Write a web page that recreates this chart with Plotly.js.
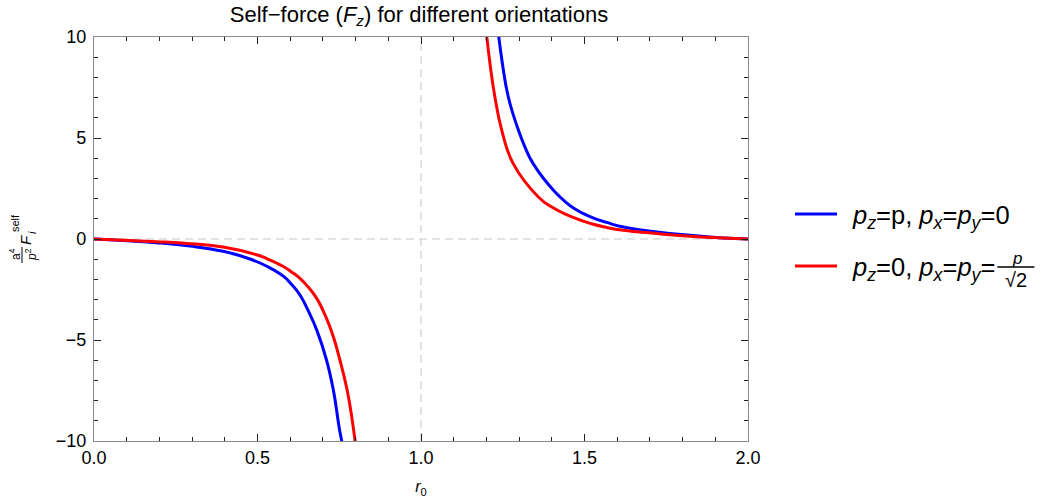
<!DOCTYPE html>
<html>
<head>
<meta charset="utf-8">
<script src="https://cdn.plot.ly/plotly-3.0.1.min.js"></script>
<style>
  html, body { margin: 0; padding: 0; background: #fff; }
  #chart { width: 1055px; height: 503px; }
</style>
</head>
<body>
<div id="chart"></div>
<script>
// ---- Data (null separates the two branches) ----
const r0Blue = [0, 0.09, 0.19, 0.294, 0.395, 0.477, 0.530, 0.579, 0.604, 0.630, 0.655, 0.681, 0.711, 0.732, 0.752, 0.766,
                null,
                1.232, 1.249, 1.267, 1.298, 1.318, 1.343, 1.410, 1.471, 1.524, 1.568, 1.619, 1.721, 1.823, 1.924, 2.0];
const fBlue  = [0, -0.07, -0.18, -0.35, -0.61, -0.99, -1.36, -1.84, -2.24, -2.77, -3.55, -4.50, -5.99, -7.48, -9.54, -10.6,
                null,
                10.8, 8.68, 7.03, 5.38, 4.55, 3.73, 2.33, 1.48, 1.06, 0.82, 0.59, 0.35, 0.18, 0.05, 0];
const r0Red  = [0, 0.09, 0.19, 0.294, 0.395, 0.497, 0.528, 0.579, 0.604, 0.630, 0.655, 0.681, 0.711, 0.732, 0.752, 0.773, 0.788, 0.803,
                null,
                1.196, 1.211, 1.226, 1.247, 1.282, 1.359, 1.400, 1.461, 1.524, 1.568, 1.619, 1.721, 1.823, 1.924, 2.0];
const fRed   = [0, -0.06, -0.13, -0.23, -0.40, -0.78, -0.97, -1.36, -1.63, -1.95, -2.38, -2.94, -3.93, -4.84, -5.99, -7.39, -8.78, -10.6,
                null,
                10.8, 8.68, 7.03, 5.38, 3.73, 2.08, 1.58, 1.09, 0.74, 0.57, 0.43, 0.27, 0.13, 0.05, 0];

const seriesNames = [
  '<i>p</i><sub><i>z</i></sub>=p, <i>p</i><sub><i>x</i></sub>=<i>p</i><sub><i>y</i></sub>=0',
  '<i>p</i><sub><i>z</i></sub>=0, <i>p</i><sub><i>x</i></sub>=<i>p</i><sub><i>y</i></sub>='
];
const seriesColors = ['#0000ff', '#ff0000'];
const xTickVals = [0, 0.5, 1, 1.5, 2];
const yTickVals = [-10, -5, 0, 5, 10];

const FONT = 'Liberation Sans, Arial, sans-serif';
const L = 94, R = 748, T = 37, B = 441, W = 1055, H = 503;
const px = v => (v - L) / (R - L);
const py = v => (B - v) / (B - T);

const traces = [
  { x: r0Blue, y: fBlue, name: seriesNames[0], mode: 'lines', connectgaps: false, showlegend: false,
    line: { color: seriesColors[0], width: 3, shape: 'spline', smoothing: 1.3 } },
  { x: r0Red, y: fRed, name: seriesNames[1], mode: 'lines', connectgaps: false, showlegend: false,
    line: { color: seriesColors[1], width: 3, shape: 'spline', smoothing: 1.3 } }
];

const axisCommon = {
  showline: true, linecolor: '#8a8a8a', linewidth: 1.2, mirror: 'ticks',
  ticks: 'inside', ticklen: 7, tickwidth: 1, tickcolor: '#222',
  showgrid: false, zeroline: false,
  tickfont: { family: FONT, size: 18, color: '#000' }
};

// manual legend (line samples + labels) placed to the right of the frame
const legendY = [214, 266];
const legendShapes = legendY.map((yy, i) => ({
  type: 'line', xref: 'paper', yref: 'paper', x0: px(795), x1: px(837), y0: py(yy), y1: py(yy),
  line: { color: seriesColors[i], width: 3 }
}));
const legendAnns = legendY.map((yy, i) => ({
  xref: 'paper', yref: 'paper', x: px(850), y: py(yy + 3), xanchor: 'left', yanchor: 'middle',
  text: seriesNames[i], showarrow: false, font: { family: FONT, size: 25.5, color: '#000' }
}));

const layout = {
  width: W, height: H,
  margin: { l: L, r: W - R, t: T, b: H - B, pad: 0 },
  paper_bgcolor: '#fff', plot_bgcolor: '#fff',
  font: { family: FONT, color: '#000' },
  showlegend: false,
  title: { text: 'Self\u2212force (<i>F</i><sub><i>z</i></sub>) for different orientations',
           font: { family: FONT, size: 22, color: '#000' },
           x: 419 / W, xanchor: 'center', y: 1 - 14 / H, yanchor: 'middle' },
  xaxis: Object.assign({}, axisCommon, {
    range: [0, 2], tickvals: xTickVals, tickformat: '.1f',
    minor: { dtick: 0.1, tick0: 0, ticklen: 4, tickcolor: '#222', ticks: 'inside', showgrid: false },
    title: { text: '<i>r</i><sub>0</sub>', font: { family: FONT, size: 16, color: '#000' }, standoff: 14 }
  }),
  yaxis: Object.assign({}, axisCommon, {
    range: [-10, 10], tickvals: yTickVals,
    minor: { dtick: 1, tick0: 0, ticklen: 4, tickcolor: '#222', ticks: 'inside', showgrid: false },
    ticklabelstandoff: 3
  }),
  shapes: [
    { type: 'line', xref: 'x', yref: 'paper', x0: 1, x1: 1, y0: 0, y1: 1, layer: 'below',
      line: { color: '#dadada', width: 1.5, dash: '8px,5px' } },
    { type: 'line', xref: 'paper', yref: 'y', x0: 0, x1: 1, y0: 0, y1: 0, layer: 'below',
      line: { color: '#dadada', width: 1.5, dash: '8px,5px' } },
    // y-axis label fraction bar
    { type: 'line', xref: 'paper', yref: 'paper', x0: px(22), x1: px(22), y0: py(247), y1: py(263),
      line: { color: '#000', width: 1 } }
  ].concat(legendShapes),
  annotations: [
    { xref: 'paper', yref: 'paper', x: px(23), y: py(255),
      text: 'a<sup>4</sup><br><i>p</i><sup>2</sup>', textangle: -90, showarrow: false,
      font: { family: FONT, size: 12, color: '#000' }, xanchor: 'center', yanchor: 'middle' },
    { xref: 'paper', yref: 'paper', x: px(25), y: py(240),
      text: '<i>F</i>', textangle: -90, showarrow: false,
      font: { family: FONT, size: 15, color: '#000' }, xanchor: 'center', yanchor: 'middle' },
    { xref: 'paper', yref: 'paper', x: px(15), y: py(223),
      text: 'self', textangle: -90, showarrow: false,
      font: { family: FONT, size: 11, color: '#000' }, xanchor: 'center', yanchor: 'middle' },
    { xref: 'paper', yref: 'paper', x: px(32), y: py(233),
      text: '<i>i</i>', textangle: -90, showarrow: false,
      font: { family: FONT, size: 11, color: '#000' }, xanchor: 'center', yanchor: 'middle' }
  ].concat(legendAnns)
};

Plotly.newPlot('chart', traces, layout, { displayModeBar: false, staticPlot: true }).then(function (gd) {
  // place a stacked fraction p/√2 right after the second legend label
  const anns = gd.querySelectorAll('.annotation-text');
  const el = anns[anns.length - 1];
  if (!el) return;
  const host = gd.getBoundingClientRect();
  const bb = el.getBoundingClientRect();
  const fx0 = bb.right - host.left + 2, fx1 = fx0 + 37;
  const cx = (fx0 + fx1) / 2;
  const yBar = 267;
  const ann = gd.layout.annotations.slice();
  ann.push({ xref: 'paper', yref: 'paper', x: px(cx + 1), y: py(yBar - 9), text: '<i>p</i>', showarrow: false,
             font: { family: FONT, size: 17, color: '#000' }, xanchor: 'center', yanchor: 'middle' });
  ann.push({ xref: 'paper', yref: 'paper', x: px(cx), y: py(yBar + 13), text: '\u221A2', showarrow: false,
             font: { family: FONT, size: 20, color: '#000' }, xanchor: 'center', yanchor: 'middle' });
  const shp = gd.layout.shapes.slice();
  shp.push({ type: 'line', xref: 'paper', yref: 'paper', x0: px(fx0), x1: px(fx1), y0: py(yBar), y1: py(yBar),
             line: { color: '#000', width: 1.3 } });
  return Plotly.relayout(gd, { annotations: ann, shapes: shp });
});
</script>
</body>
</html>
